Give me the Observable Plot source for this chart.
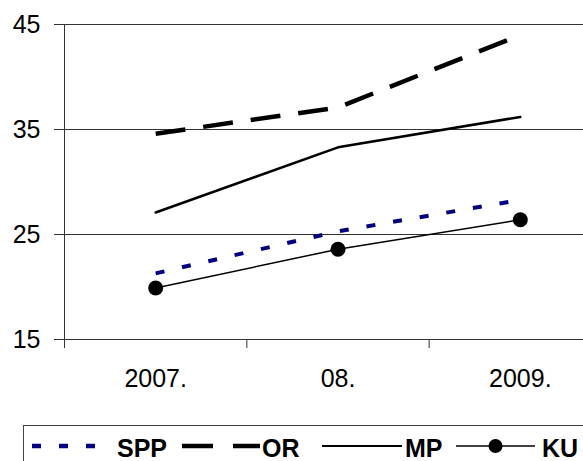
<!DOCTYPE html>
<html>
<head>
<meta charset="utf-8">
<script src="https://cdn.jsdelivr.net/npm/d3@7"></script>
<script src="https://cdn.jsdelivr.net/npm/@observablehq/plot@0.6"></script>
<style>
  html, body { margin: 0; padding: 0; background: #fff; overflow: hidden; }
  #wrap { position: relative; width: 583px; height: 461px; overflow: hidden; }
  #legend { position: absolute; left: 23px; top: 425px; width: 600px; height: 60px; border: 1px solid #444; box-sizing: border-box; }
</style>
</head>
<body>
<div id="wrap"><div id="chart"></div><div id="legend"></div></div>
<script>
const years = ["2007.", "08.", "2009."];
const yTicks = [15, 25, 35, 45];
const seriesNames = ["SPP", "OR", "MP", "KU"];
const sppValues = [21.3, 25.3, 28.3];
const orValues = [34.6, 37.1, 44.0];
const mpValues = [27.1, 33.3, 36.2];
const kuValues = [19.9, 23.6, 26.4];

const valuesBySeries = {SPP: sppValues, OR: orValues, MP: mpValues, KU: kuValues};
const styles = {
  SPP: {stroke: "#000080", strokeWidth: 4, strokeDasharray: "9,18", strokeLinecap: "butt"},
  OR: {stroke: "#000", strokeWidth: 4.5, strokeDasharray: "30,18", strokeLinecap: "butt"},
  MP: {stroke: "#000", strokeWidth: 2.5},
  KU: {stroke: "#000", strokeWidth: 1.5}
};
const rows = s => valuesBySeries[s].map((v, i) => ({i, v, s}));

const font = "'Liberation Sans', Arial, sans-serif";
const chart = Plot.plot({
  width: 583, height: 400,
  marginLeft: 64, marginRight: 0, marginTop: 24, marginBottom: 61,
  x: {type: "linear", domain: [-0.5, 2.5], range: [64, 611]},
  y: {domain: [15, 45]},
  style: {fontFamily: font, fontSize: "25px", color: "#000", background: "#fff"},
  marks: [
    Plot.ruleY(yTicks, {stroke: "#333", strokeWidth: 1}),
    Plot.ruleX([-0.5], {y1: yTicks[0], y2: yTicks[yTicks.length - 1], stroke: "#333"}),
    Plot.axisY({ticks: yTicks, tickSize: 10, tickPadding: 14, stroke: "#333", fontSize: 25, label: null}),
    Plot.axisX({ticks: [-0.5, 0.5, 1.5], tickSize: 9, tickFormat: () => "", stroke: "#333", label: null}),
    Plot.axisX({ticks: [0, 1, 2], tickSize: 0, tickPadding: 30, tickFormat: i => years[i], fontSize: 25, label: null}),
    ...seriesNames.map(s => Plot.lineY(rows(s), {x: "i", y: "v", ...styles[s]})),
    Plot.dot(rows("KU"), {x: "i", y: "v", r: 7.5, fill: "#000", stroke: "none"})
  ]
});
document.getElementById("chart").appendChild(chart);

// Legend
const lsvg = d3.select("#legend").append("svg").attr("width", 600).attr("height", 60)
  .style("position", "absolute").style("left", "0").style("top", "0");
const legendItems = [
  {s: "SPP", x0: 8, x1: 73, tx: 93},
  {s: "OR", x0: 158, x1: 236, tx: 238},
  {s: "MP", x0: 298, x1: 378, tx: 381},
  {s: "KU", x0: 432, x1: 511, tx: 518}
];
const ly = 20;
legendItems.forEach(it => {
  const st = styles[it.s];
  let dash = st.strokeDasharray || null;
  if (it.s === "OR") dash = "31,20";
  lsvg.append("line").attr("x1", it.x0).attr("x2", it.x1).attr("y1", ly).attr("y2", ly)
    .attr("stroke", st.stroke).attr("stroke-width", it.s === "KU" ? 1.5 : (it.s === "MP" ? 2 : 4.5))
    .attr("stroke-dasharray", dash);
  if (it.s === "KU") lsvg.append("circle").attr("cx", (it.x0 + it.x1) / 2).attr("cy", ly).attr("r", 7).attr("fill", "#000");
  lsvg.append("text").attr("x", it.tx).attr("y", 31).text(it.s)
    .attr("font-family", font).attr("font-size", 25).attr("font-weight", "bold").attr("fill", "#000");
});
</script>
</body>
</html>
